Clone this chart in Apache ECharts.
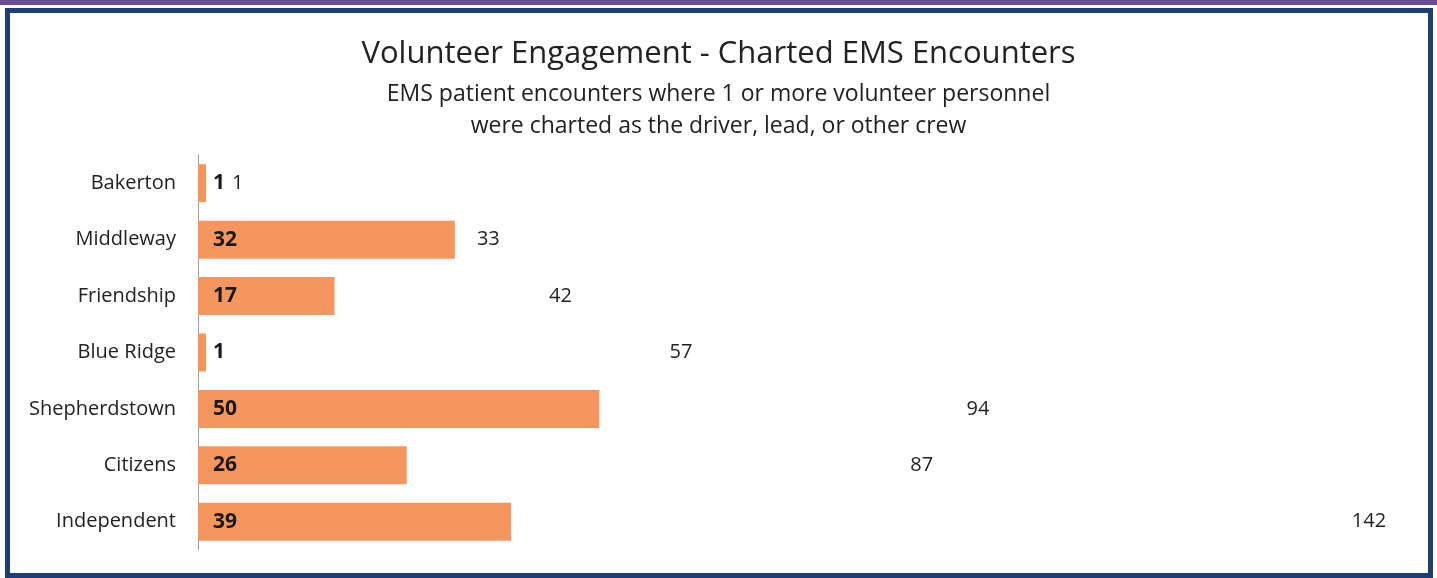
<!DOCTYPE html>
<html>
<head>
<meta charset="utf-8">
<script src="https://cdn.jsdelivr.net/npm/echarts@6/dist/echarts.min.js"></script>
<style>
  html, body { margin: 0; padding: 0; background: #fff; }
  #chart { width: 1437px; height: 578px; }
</style>
</head>
<body>
<div id="chart"></div>
<script>
const stations = ['Bakerton', 'Middleway', 'Friendship', 'Blue Ridge', 'Shepherdstown', 'Citizens', 'Independent'];
const volunteerEncounters = [1, 32, 17, 1, 50, 26, 39];
const totalEncounters = [1, 33, 42, 57, 94, 87, 142];

const font = 'Open Sans';

// the total label of a near-empty bar sits a bit further out so it clears the bold label
const totalData = totalEncounters.map(function (v) {
    return v < 5 ? { value: v, label: { distance: 26 } } : v;
});

let chartElem = document.getElementById('chart');
let chart = echarts.init(chartElem);
chart.setOption({
    animation: false,
    backgroundColor: '#fff',
    graphic: [
        // purple strip at the top
        { type: 'rect', shape: { x: 0, y: 0, width: 1437, height: 5 }, style: { fill: '#6b4b92' } },
        // navy frame
        { type: 'rect', shape: { x: 7.5, y: 10.5, width: 1423, height: 565 },
          style: { fill: 'none', stroke: '#1f3d72', lineWidth: 5 } }
    ],
    title: [{
        text: 'Volunteer Engagement - Charted EMS Encounters',
        left: 'center',
        top: 34,
        textStyle: { fontFamily: font, fontSize: 31, fontWeight: 'normal', color: '#222' }
    }, {
        text: 'EMS patient encounters where 1 or more volunteer personnel',
        left: 'center',
        top: 78,
        textStyle: { fontFamily: font, fontSize: 23, fontWeight: 'normal', color: '#222' }
    }, {
        text: 'were charted as the driver, lead, or other crew',
        left: 'center',
        top: 110,
        textStyle: { fontFamily: font, fontSize: 23, fontWeight: 'normal', color: '#222' }
    }],
    grid: { left: 198, right: 35, top: 155, bottom: 28 },
    xAxis: {
        type: 'value',
        min: 0,
        max: 150,
        show: false
    },
    yAxis: {
        type: 'category',
        data: stations,
        inverse: true,
        axisLine: { lineStyle: { color: '#a0a0a0', width: 1 } },
        axisTick: { show: false },
        axisLabel: { fontFamily: font, fontSize: 20, color: '#222', margin: 22 }
    },
    series: [{
        name: 'Total',
        type: 'bar',
        data: totalData,
        barWidth: 38,
        itemStyle: { color: 'rgba(255,255,255,0)' },
        label: {
            show: true,
            position: 'right',
            distance: 14,
            fontFamily: font,
            fontSize: 20,
            color: '#222'
        }
    }, {
        name: 'Volunteer',
        type: 'bar',
        data: volunteerEncounters,
        barWidth: 38,
        barGap: '-100%',
        itemStyle: { color: '#f5965f' },
        label: {
            show: true,
            position: 'insideLeft',
            distance: 15,
            fontFamily: font,
            fontSize: 21,
            fontWeight: 'bold',
            color: '#1a1a1a'
        }
    }]
});
</script>
</body>
</html>
